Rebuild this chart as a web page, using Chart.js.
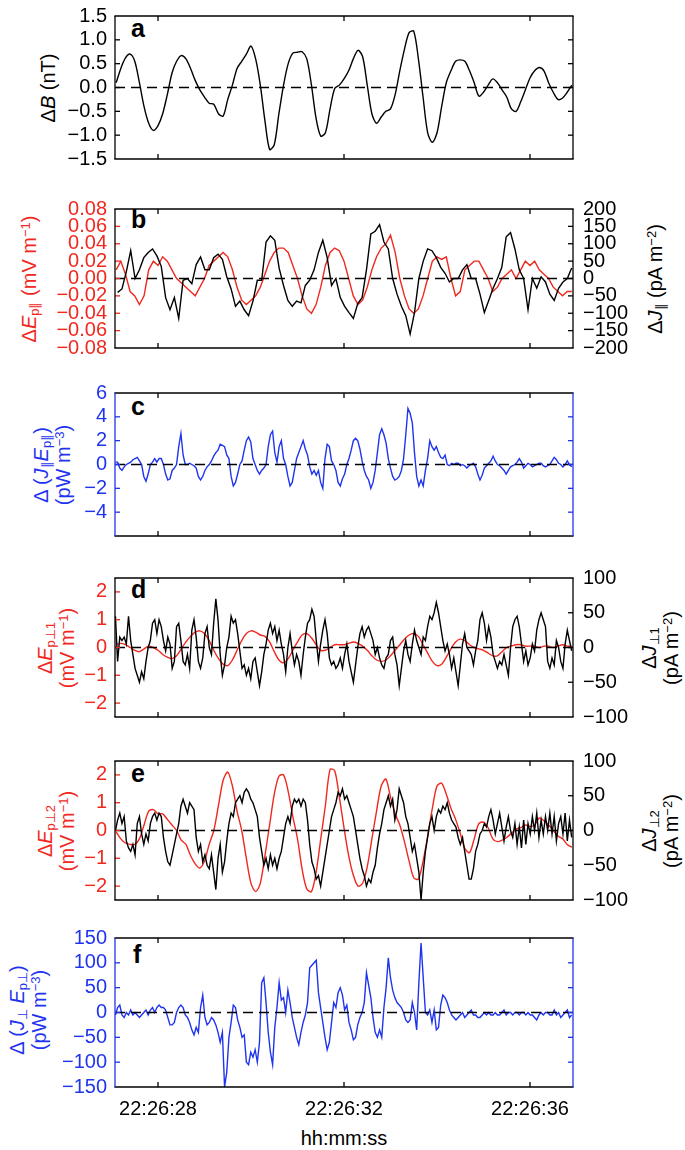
<!DOCTYPE html>
<html><head><meta charset="utf-8">
<script src="https://cdn.jsdelivr.net/npm/chart.js@4.4.1/dist/chart.umd.min.js"></script>
<style>
body{margin:0;background:#fff;width:685px;height:1150px;position:relative;overflow:hidden;font-family:"Liberation Sans",Arial,Helvetica,sans-serif;}
canvas{position:absolute;left:0;}
.t{position:absolute;white-space:nowrap;font-size:20px;line-height:22px;text-align:center;transform:translate(-50%,-50%) rotate(-90deg);}
.t sub{font-size:65%;vertical-align:-0.25em;line-height:0;}
.t sup{font-size:65%;vertical-align:0.5em;line-height:0;}
.lab{position:absolute;font-weight:bold;font-size:25px;line-height:25px;color:#000;}
.xt{position:absolute;font-size:20px;line-height:20px;transform:translate(-50%,-50%);white-space:nowrap;}
</style></head><body>

<div class="lab" style="left:131px;top:16px">a</div>
<div class="lab" style="left:131px;top:207px">b</div>
<div class="lab" style="left:131px;top:394px">c</div>
<div class="lab" style="left:131px;top:577px">d</div>
<div class="lab" style="left:131px;top:761px">e</div>
<div class="lab" style="left:133px;top:942px">f</div>

<div class="t" style="left:48px;top:87.5px;color:#000">Δ<i>B</i> (nT)</div>
<div class="t" style="left:29px;top:278.5px;color:#f0281e">Δ<i>E</i><sub>p∥</sub> (mV m<sup>−1</sup>)</div>
<div class="t" style="left:655px;top:278.5px;color:#000">Δ<i>J</i><sub>∥</sub> (pA m<sup>−2</sup>)</div>
<div class="t" style="left:52px;top:464.5px;color:#1f34ee">Δ (<i>J</i><sub>∥</sub><i>E</i><sub>p∥</sub>)<br>(pW m<sup>−3</sup>)</div>
<div class="t" style="left:56px;top:647.5px;color:#f0281e">Δ<i>E</i><sub>p⊥1</sub><br>(mV m<sup>−1</sup>)</div>
<div class="t" style="left:660px;top:647.5px;color:#000">Δ<i>J</i><sub>⊥1</sub><br>(pA m<sup>−2</sup>)</div>
<div class="t" style="left:56px;top:830.5px;color:#f0281e">Δ<i>E</i><sub>p⊥2</sub><br>(mV m<sup>−1</sup>)</div>
<div class="t" style="left:660px;top:830.5px;color:#000">Δ<i>J</i><sub>⊥2</sub><br>(pA m<sup>−2</sup>)</div>
<div class="t" style="left:28px;top:1009.5px;color:#1f34ee">Δ (<i>J</i><sub>⊥</sub> <i>E</i><sub>p⊥</sub>)<br>(pW m<sup>−3</sup>)</div>
<div class="xt" style="left:344px;top:1138px">hh:mm:ss</div>

<script>
// ---- x axis (seconds after 22:26:00) ----
const X_MIN = 27.075, X_MAX = 36.925;
const xTicks = [28, 32, 36];
const xTickLabels = ['22:26:28', '22:26:32', '22:26:36'];

// sample grids (start time, step in s)
const SMOOTH_T0 = 27.1, SMOOTH_DT = 0.1;
const FINE_T0 = 27.084, FINE_DT = 0.04695;
const JPAR_T0 = 27.131, JPAR_DT = 0.0939;

// ---- y ticks ----
const aTicks = [-1.5, -1, -0.5, 0, 0.5, 1, 1.5];
const bTicksL = [-0.08, -0.06, -0.04, -0.02, 0, 0.02, 0.04, 0.06, 0.08];
const bTicksR = [-200, -150, -100, -50, 0, 50, 100, 150, 200];
const cTicks = [-4, -2, 0, 2, 4, 6];
const dTicksL = [-2, -1, 0, 1, 2];
const dTicksR = [-100, -50, 0, 50, 100];
const fTicks = [-150, -100, -50, 0, 50, 100, 150];

// ---- series ----
const deltaB = [0.1,0.4,0.62,0.7,0.55,0.1,-0.4,-0.75,-0.9,-0.8,
-0.55,-0.15,0.3,0.55,0.67,0.6,0.4,0.15,-0.05,-0.2,
-0.33,-0.35,-0.55,-0.6,-0.25,0.05,0.4,0.55,0.7,0.87,
0.6,0.05,-0.7,-1.3,-1.2,-0.55,0.05,0.5,0.72,0.74,
0.75,0.6,0.05,-0.65,-1.02,-0.95,-0.45,-0.02,0.05,0.18,
0.35,0.6,0.78,0.65,0.05,-0.55,-0.75,-0.62,-0.5,-0.45,
-0.15,0.35,0.8,1.15,1.18,0.6,-0.2,-0.95,-1.15,-0.95,
-0.4,0.1,0.35,0.55,0.58,0.55,0.35,0.1,-0.18,-0.1,
0.05,0.18,0.1,-0.05,-0.2,-0.45,-0.5,-0.3,-0.05,0.2,
0.35,0.42,0.35,0.1,-0.1,-0.25,-0.22,-0.1,0.05];

const ePar = [0.01,0.02,0.005,-0.015,-0.02,-0.03,-0.02,0.01,0.02,0.015,
0.025,0.02,0.01,0,-0.005,-0.01,-0.015,-0.02,-0.01,0,
0.015,0.02,0.025,0.03,0.025,0.01,-0.01,-0.025,-0.03,-0.025,
-0.02,-0.01,0.005,0.02,0.03,0.035,0.035,0.03,0.015,0,
-0.02,-0.035,-0.04,-0.03,-0.01,0.015,0.03,0.035,0.032,0.02,
0,-0.02,-0.03,-0.025,-0.01,0.01,0.025,0.035,0.04,0.05,
0.03,0,-0.02,-0.035,-0.04,-0.035,-0.02,0,0.02,0.025,
0.022,0.025,0,-0.02,-0.015,0.01,0.015,0.02,0.02,0.01,
0,-0.015,-0.01,0,0.005,0.01,0,0.01,0.02,0.015,
0.02,0.01,0.005,0,-0.01,-0.015,-0.02,-0.015,-0.015];

const jPar = [-40,-30,20,80,0,25,60,75,85,65,
35,-55,-90,-55,-115,-5,0,-15,40,62,
25,25,60,70,55,5,-30,-80,-65,-90,
-107,-65,-5,-5,105,123,110,30,-20,-63,
-80,-65,-70,-20,-5,25,75,110,60,-20,
0,-55,-80,-98,-115,-72,-55,25,128,136,
155,105,85,0,-45,-80,-107,-160,-98,0,
50,85,80,60,32,15,-10,0,0,25,
40,0,0,-45,-98,-63,-28,0,32,120,
132,85,25,0,-90,0,-28,5,-10,-45,
-63,-28,-10,0,30];

const powerPar = [0.2,0.2,-0.3,-0.5,-0.2,0,0.1,0.2,0.4,0.5,
0.6,0.3,0,-1.0,-1.4,-0.8,0,0.2,0.5,0.2,
0.5,0.5,0,-0.8,-1.3,-1.2,-0.5,-0.3,0,1.5,
2.6,0.8,0,0,0.1,0,-0.1,-0.3,-1.0,-1.3,
-1.0,-0.5,-0.2,0,0.3,0.7,1.0,1.2,1.7,1.6,
1.5,0.8,0.5,-1.0,-1.8,-1.5,-0.8,0,0.3,1.2,
2.0,2.3,1.9,0.5,0,-0.5,-0.8,-0.5,-0.3,0,
1.5,2.5,2.8,1.0,0.2,1.5,2.0,0.5,0,-1.0,
-1.8,-1.5,-0.5,0.5,1.0,1.5,2.0,1.3,0.8,-0.2,
-0.8,-0.5,-0.9,-0.5,-1.5,-2.0,0.5,1.7,1.5,0.3,
0,-0.5,-1.5,-1.8,-1.2,-0.8,0,0.5,1.2,2.0,
2.2,2.0,1.3,0.3,-0.5,-1.0,-1.3,-2.0,-1.5,-0.5,
1.0,2.5,3.0,2.5,1.8,0.5,-0.3,-1.0,-1.3,-1.2,
-1.0,-0.5,0.5,2.5,4.7,4.3,3.5,1.0,-1.0,-1.8,
-1.3,-1.8,-0.5,0.5,2.0,1.5,1.2,1.5,1.0,0.6,
0.5,0.8,0,-0.1,0.1,0,0.1,0.1,-0.1,0,
-0.1,-0.3,-0.1,0,0.1,-0.2,-0.8,-1.3,-0.9,-0.3,
-0.1,0.1,0.3,0.7,0.3,0,-0.1,-0.3,-0.5,-0.8,
-0.5,-0.2,-0.1,0,0.2,0.5,0.2,-0.3,-0.1,0.1,
0,-0.2,-0.1,0,0.1,0.1,-0.1,-0.2,-0.1,0,
0.3,0.6,0.4,0.1,0,-0.2,0,0.3,0,-0.2];

const ePerp1 = [0.1,0.15,0.1,0,-0.1,-0.15,-0.05,0.05,0,-0.1,
-0.25,-0.35,-0.4,-0.3,-0.05,0.2,0.4,0.55,0.6,0.5,
0.25,-0.1,-0.4,-0.6,-0.65,-0.45,-0.1,0.25,0.5,0.6,
0.55,0.45,0.4,0.2,-0.15,-0.45,-0.55,-0.4,-0.1,0.2,
0.45,0.5,0.35,0.1,-0.1,-0.1,0,0.1,0.1,0.1,
0.15,0.2,0.15,0.05,-0.1,-0.3,-0.45,-0.5,-0.45,-0.3,
-0.1,0.1,0.3,0.45,0.5,0.4,0.1,-0.2,-0.5,-0.65,
-0.6,-0.35,-0.05,0.2,0.3,0.25,0.1,0,-0.05,-0.1,
-0.2,-0.3,-0.3,-0.15,0,0.05,0.1,0.1,0.05,0.05,
0.05,0,0.05,0.05,0,0.05,0.1,0.05,0.05];

const jPerp1 = [45,-20,15,10,15,5,45,10,-10,-30,
-40,-50,-35,-45,-20,0,10,35,40,20,
40,30,10,-5,15,5,-30,-20,30,35,
10,-20,-25,-10,-30,25,40,15,-20,-30,
-15,20,30,0,-10,35,70,40,-10,-40,
-25,0,15,45,35,40,20,-5,-30,-25,
-40,-30,-45,-20,-15,-35,-55,-35,-10,5,
25,35,20,30,10,25,5,-10,-35,0,
20,-5,-25,-10,-20,-40,-10,15,35,40,
55,45,10,-20,5,25,40,20,-15,-25,
-20,-30,-25,-15,-30,-10,5,-20,-35,-50,
-25,0,20,30,15,25,30,20,10,-10,
0,-15,-25,-30,-15,-10,10,15,-10,-25,
-55,-30,-5,10,-10,-20,5,25,10,0,
-10,15,10,30,45,40,50,65,50,30,
10,-5,5,-10,-30,-15,-35,-55,-25,5,
20,0,-5,-10,-25,-5,10,40,50,35,
10,30,15,-10,-20,-30,-20,-25,-10,-25,
-40,0,30,40,45,30,5,-20,-5,-25,
-15,5,-5,25,40,50,40,30,-20,-30,
-15,-25,10,0,-20,-30,5,25,10,-5];

const ePerp2 = [-0.05,-0.3,-0.45,-0.5,-0.5,-0.3,0.2,0.7,0.75,0.6,
0.6,0.4,0.2,0,-0.35,-0.5,-0.9,-1.2,-1.35,-1.1,
-0.5,0,0.9,1.8,2.1,1.6,0.7,0,-1.0,-1.9,
-2.2,-1.9,-0.9,0.2,1.3,1.95,2.0,1.4,0.5,-0.3,
-1.4,-2.1,-2.2,-1.5,-0.3,0.9,2.2,2.15,1.2,0.1,
-0.9,-1.6,-2.0,-1.9,-1.3,-0.3,0.7,1.6,1.85,1.2,
0.6,0.2,-0.4,-1.1,-1.7,-1.75,-1.1,-0.2,0.8,1.6,
1.7,1.3,0.8,0.4,-0.1,-0.65,-0.8,-0.3,0.25,0.3,
0.1,-0.3,-0.4,-0.35,-0.25,-0.1,0.05,0.1,0.2,0.15,
0.2,0.45,0.35,0.2,0,-0.2,-0.3,-0.5,-0.6];

const jPerp2 = [0,15,25,10,20,-15,-25,-30,-20,-35,
10,20,-5,-20,-5,-15,10,20,25,15,
25,20,-10,-30,-45,-50,-35,-20,-5,10,
35,45,35,25,40,35,30,-10,-30,-20,
-45,-35,-50,-55,-35,-60,-85,-40,-20,-60,
-45,-15,10,25,20,40,45,50,40,55,
60,55,45,40,30,20,-10,-30,-50,-40,
-55,-35,-50,-40,-55,-40,-30,-10,10,20,
10,35,45,40,45,35,45,40,15,-20,
-45,-55,-70,-65,-80,-60,-40,-20,0,20,
30,40,55,50,60,45,50,40,30,20,
0,-20,-40,-55,-65,-80,-70,-75,-60,-50,
-25,-5,10,30,40,50,35,45,15,30,
60,50,40,20,10,-10,-30,-20,-40,-60,
-100,-60,-30,-10,10,20,0,20,30,25,
35,30,40,25,15,10,5,-10,-20,-10,
-30,-50,-70,-70,-55,-30,-20,-5,0,10,
5,20,30,15,-5,10,25,5,-15,5,
20,0,-10,10,-20,5,-25,15,-20,10,
-5,20,0,25,-10,15,-5,20,0,25,
-5,20,-15,10,20,-5,25,-15,15,-10];

const powerPerp = [-5,10,15,-5,-10,0,-5,5,-5,0,
-5,-10,-5,0,5,-5,5,10,0,10,
15,10,10,5,-10,-25,-25,-20,0,10,
15,10,-5,-10,-20,-35,-45,-30,-40,10,
35,-10,-25,-20,-10,-15,-25,-40,-60,-40,
-150,-120,-50,-20,15,10,-15,-30,-50,-45,
-100,-105,-80,-90,-75,-100,-60,60,70,20,
-40,-80,-105,-30,10,60,25,30,0,45,
20,-10,-30,-50,-65,-40,-20,-5,20,90,
95,100,105,40,10,-20,-50,-75,-60,-20,
20,10,40,50,35,5,15,-20,-35,-55,
-50,-25,-10,0,20,80,55,30,-10,-40,
-50,-35,-50,10,50,110,70,45,30,20,
15,10,0,-15,-20,-15,20,0,-35,60,
140,70,0,-5,5,-20,5,-35,-30,15,
35,30,20,5,-5,-10,-15,-10,-5,0,
-10,-5,0,5,-5,-5,-10,-10,-5,0,
-5,0,-5,-5,0,-5,-5,0,5,-5,
0,0,-5,0,0,-5,0,0,-5,0,
-5,-5,-10,-15,-5,0,-5,0,0,-5,
-5,5,-5,0,-10,-5,0,5,-10,-5];

// ---- styling ----
const RED = '#f0281e', BLUE = '#1f34ee', BLACK = '#000';
const FONT = {family: "'Liberation Sans', Arial, Helvetica, sans-serif", size: 20};
const LEFT_W = 115, RIGHT_W = 112, PANEL_H = 155;

function series(vals, t0, dt) { return vals.map((v, i) => ({x: t0 + i * dt, y: v})); }
function zeroLine() {
  return {data: [{x: X_MIN, y: 0}, {x: X_MAX, y: 0}], borderColor: BLACK, borderWidth: 1.5,
          borderDash: [10, 6], order: 0, yAxisID: 'y', tension: 0};
}
function line(data, color, axis, order, tension) {
  return {data, borderColor: color, borderWidth: 1.4, yAxisID: axis, order, tension: tension || 0};
}
const minus = s => s.replace('-', '\u2212');
function yAxis(pos, range, ticks, digits, color) {
  return {type: 'linear', position: pos, min: range[0], max: range[1],
    grid: {display: false, drawTicks: false}, border: {display: false},
    ticks: {autoSkip: false, color, font: FONT, padding: pos === 'left' ? 8 : 10,
            callback: v => minus(Number(v).toFixed(digits))},
    afterBuildTicks: s => { s.ticks = ticks.map(v => ({value: v})); },
    afterFit: s => { s.width = pos === 'left' ? LEFT_W : RIGHT_W; }};
}
function framePlugin(o) {
  return {id: 'frame', afterDatasetsDraw(chart) {
    const {ctx, chartArea: ca, scales} = chart;
    const L = ca.left, R = ca.right, T = ca.top, B = ca.bottom, TL = 5;
    ctx.save(); ctx.lineWidth = 1.3; ctx.setLineDash([]);
    const seg = (x1, y1, x2, y2, c) => { ctx.strokeStyle = c; ctx.beginPath(); ctx.moveTo(x1, y1); ctx.lineTo(x2, y2); ctx.stroke(); };
    xTicks.forEach(v => { const p = scales.x.getPixelForValue(v); seg(p, T, p, T + TL, BLACK); seg(p, B, p, B - TL, BLACK); });
    const yl = scales.y;
    o.ticksL.forEach(v => { if (v <= yl.min || v >= yl.max) return; const p = yl.getPixelForValue(v);
      seg(L, p, L + TL, p, o.tickL); if (!scales.y2) seg(R, p, R - TL, p, o.tickL); });
    if (scales.y2) { const s = scales.y2; o.ticksR.forEach(v => { if (v <= s.min || v >= s.max) return; const p = s.getPixelForValue(v); seg(R, p, R - TL, p, BLACK); }); }
    seg(L - 0.65, T, R + 0.65, T, BLACK); seg(L - 0.65, B, R + 0.65, B, BLACK);
    seg(L, T, L, B, o.edge); seg(R, T, R, B, o.edge);
    ctx.restore();
  }};
}
function panel(top, showX, datasets, scalesY, frame) {
  const PT = 14, PB = 14, XH = 60;
  const h = PT + PANEL_H + (showX ? XH : PB);
  const cv = document.createElement('canvas');
  cv.width = 685; cv.height = h; cv.style.top = (top - PT) + 'px';
  document.body.appendChild(cv);
  const scales = Object.assign({
    x: {type: 'linear', min: X_MIN, max: X_MAX, display: showX,
        grid: {display: false, drawTicks: false}, border: {display: false},
        ticks: {color: BLACK, font: FONT, padding: 10, autoSkip: false, maxRotation: 0,
                callback: v => xTickLabels[xTicks.indexOf(v)]},
        afterBuildTicks: s => { s.ticks = xTicks.map(v => ({value: v})); },
        afterFit: s => { s.height = showX ? XH : 0; }}
  }, scalesY);
  new Chart(cv, {type: 'line', data: {datasets}, options: {
    responsive: false, animation: false, devicePixelRatio: 1, events: [],
    layout: {padding: {top: PT, bottom: showX ? 0 : PB, left: 0, right: scalesY.y2 ? 0 : RIGHT_W}},
    plugins: {legend: {display: false}, tooltip: {enabled: false}},
    elements: {point: {radius: 0}},
    scales}, plugins: [framePlugin(frame)]});
}

// a
panel(10, false,
  [zeroLine(), line(series(deltaB, SMOOTH_T0, SMOOTH_DT), BLACK, 'y', 2, 0.3)],
  {y: yAxis('left', [-1.5, 1.5], aTicks, 1, BLACK)},
  {ticksL: aTicks, tickL: BLACK, edge: BLACK});
// b
panel(201, false,
  [zeroLine(), line(series(jPar, JPAR_T0, JPAR_DT), BLACK, 'y2', 2), line(series(ePar, SMOOTH_T0, SMOOTH_DT), RED, 'y', 3)],
  {y: yAxis('left', [-0.08, 0.08], bTicksL, 2, RED), y2: yAxis('right', [-200, 200], bTicksR, 0, BLACK)},
  {ticksL: bTicksL, ticksR: bTicksR, tickL: RED, edge: BLACK});
// c
panel(387, false,
  [zeroLine(), line(series(powerPar, FINE_T0, FINE_DT), BLUE, 'y', 2)],
  {y: yAxis('left', [-6, 6], cTicks, 0, BLUE)},
  {ticksL: cTicks, tickL: BLUE, edge: BLUE});
// d
panel(570, false,
  [zeroLine(), line(series(jPerp1, FINE_T0, FINE_DT), BLACK, 'y2', 2), line(series(ePerp1, SMOOTH_T0, SMOOTH_DT), RED, 'y', 3, 0.3)],
  {y: yAxis('left', [-2.5, 2.5], dTicksL, 0, RED), y2: yAxis('right', [-100, 100], dTicksR, 0, BLACK)},
  {ticksL: dTicksL, ticksR: dTicksR, tickL: RED, edge: BLACK});
// e
panel(753, false,
  [zeroLine(), line(series(jPerp2, FINE_T0, FINE_DT), BLACK, 'y2', 2), line(series(ePerp2, SMOOTH_T0, SMOOTH_DT), RED, 'y', 3, 0.3)],
  {y: yAxis('left', [-2.5, 2.5], dTicksL, 0, RED), y2: yAxis('right', [-100, 100], dTicksR, 0, BLACK)},
  {ticksL: dTicksL, ticksR: dTicksR, tickL: RED, edge: BLACK});
// f
panel(932, true,
  [zeroLine(), line(series(powerPerp, FINE_T0, FINE_DT), BLUE, 'y', 2)],
  {y: yAxis('left', [-150, 150], fTicks, 0, BLUE)},
  {ticksL: fTicks, tickL: BLUE, edge: BLUE});
</script>
</body></html>
